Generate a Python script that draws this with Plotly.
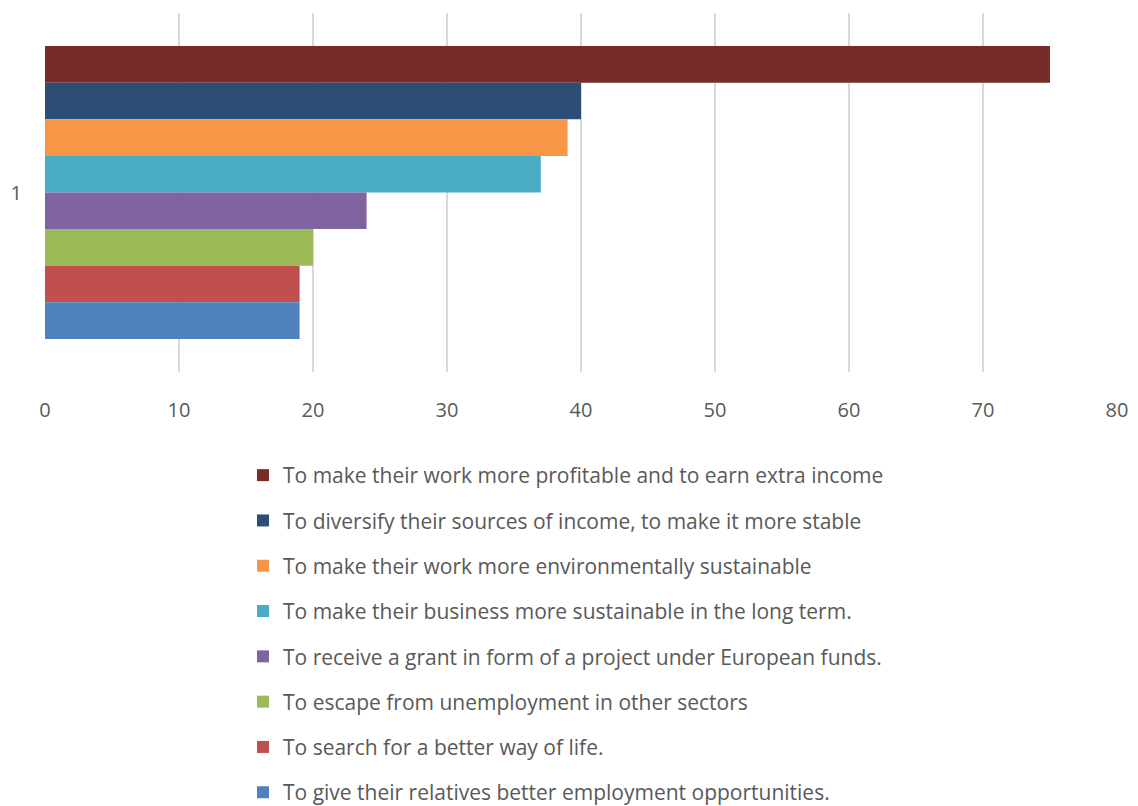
import plotly.graph_objects as go

# Survey reasons and their counts (top bar first)
reasons = [
    "To make their work more profitable and to earn extra income",
    "To diversify their sources of income, to make it more stable",
    "To make their work more environmentally sustainable",
    "To make their business more sustainable in the long term.",
    "To receive a grant in form of a project under European funds.",
    "To escape from unemployment in other sectors",
    "To search for a better way of life.",
    "To give their relatives better employment opportunities.",
]
values = [75, 40, 39, 37, 24, 20, 19, 19]
colors = ["#772C2A", "#2C4D75", "#F79646", "#4BACC6",
          "#8064A2", "#9BBB59", "#C0504D", "#4F81BD"]
category = ["1"]
x_ticks = [0, 10, 20, 30, 40, 50, 60, 70, 80]

W, H = 1138, 806
ml, mr, mt, mb = 45, 21, 13, 434

fig = go.Figure()
for i, (name, v, c) in enumerate(zip(reasons, values, colors)):
    fig.add_trace(go.Bar(
        x=[v], y=category, name=name, orientation="h",
        marker=dict(color=c, line=dict(width=0)),
        legendgroup=f"g{i}",
    ))

font_family = "Open Sans, Liberation Sans, sans-serif"

fig.update_layout(
    width=W, height=H,
    margin=dict(l=ml, r=mr, t=mt, b=mb, pad=0, autoexpand=False),
    barmode="group",
    bargap=0.184,
    bargroupgap=0,
    paper_bgcolor="white",
    plot_bgcolor="white",
    font=dict(family=font_family, size=20, color="#595959"),
    xaxis=dict(
        range=[0, 80], tickvals=x_ticks, ticktext=[str(t) for t in x_ticks],
        showgrid=True, gridcolor="#D9D9D9", gridwidth=1.5,
        zeroline=False, showline=False, ticks="",
        ticklabelstandoff=24,
        tickfont=dict(size=20, color="#595959"),
        fixedrange=True,
    ),
    yaxis=dict(
        autorange="reversed", showgrid=False, zeroline=False,
        showline=False, ticks="", ticklabelstandoff=22,
        tickfont=dict(size=20, color="#595959"),
        type="category",
    ),
    showlegend=True,
    legend=dict(
        orientation="v",
        xref="container", yref="container",
        x=243 / W, xanchor="left",
        y=1 - 455 / H, yanchor="top",
        font=dict(size=21, color="#595959", family=font_family),
        itemwidth=30,
        tracegroupgap=15,
        bgcolor="rgba(0,0,0,0)",
        traceorder="grouped",
        maxheight=600,
    ),
)

fig.write_html("out.html")
